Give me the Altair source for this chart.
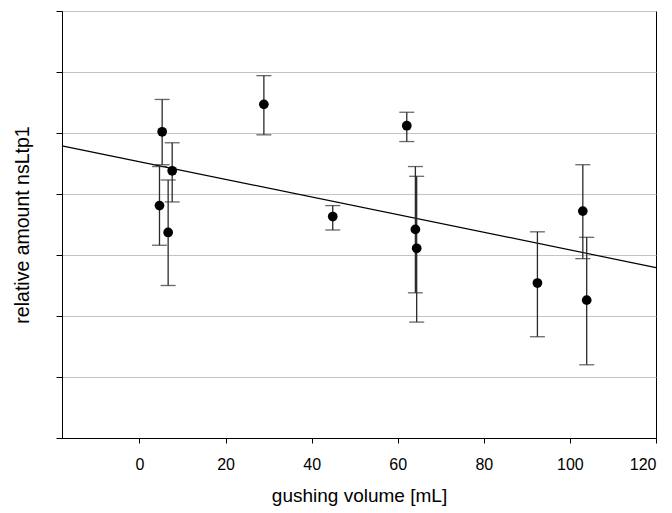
import altair as alt
import pandas as pd

# data
gush = [4.65, 5.27, 6.66, 7.6, 28.9, 44.9, 62.1, 64.1, 64.4, 92.45, 103.0, 103.9]
amount = [3.81, 5.02, 3.37, 4.38, 5.47, 3.63, 5.12, 3.42, 3.11, 2.54, 3.72, 2.26]
err_low = [3.16, 4.48, 2.50, 3.87, 4.97, 3.41, 4.86, 2.38, 1.90, 1.66, 2.94, 1.20]
err_high = [4.45, 5.55, 4.23, 4.84, 5.94, 3.81, 5.34, 4.45, 4.29, 3.38, 4.48, 3.29]
x_ticks = [0, 20, 40, 60, 80, 100, 120]
y_ticks = [0, 1, 2, 3, 4, 5, 6, 7]

df = pd.DataFrame({"x": gush, "y": amount, "lo": err_low, "hi": err_high})

FONT = "Liberation Sans"

xscale = alt.Scale(domain=[-18, 120], nice=False, zero=False)
yscale = alt.Scale(domain=[0, 7], nice=False, zero=False)

xaxis = alt.Axis(values=x_ticks, title="gushing volume [mL]", grid=False,
                 domainColor="black", tickColor="black", tickSize=5,
                 labelFontSize=16, labelFont=FONT, labelColor="black", labelPadding=13,
                 titleFontSize=19, titleFont=FONT, titleFontWeight="normal",
                 titleColor="black", titlePadding=14, zindex=1)
yaxis = alt.Axis(values=y_ticks, title="relative amount nsLtp1", labels=False,
                 grid=True, gridColor="#c4c4c4", domainColor="black",
                 tickColor="black", tickSize=6,
                 titleFontSize=19.5, titleFont=FONT, titleFontWeight="normal",
                 titleColor="black", titlePadding=23)

base = alt.Chart(df)

line = base.transform_regression("x", "y", extent=[-18, 120]).mark_line(
    color="black", strokeWidth=1.2
).encode(
    x=alt.X("x:Q", scale=xscale, axis=xaxis),
    y=alt.Y("y:Q", scale=yscale, axis=yaxis),
)

bars = base.mark_rule(color="#2a2a2a", strokeWidth=1.3).encode(
    x=alt.X("x:Q", scale=xscale),
    y=alt.Y("lo:Q", scale=yscale),
    y2="hi:Q",
)

cap_lo = base.mark_tick(orient="horizontal", size=15, thickness=1.3, color="#2a2a2a").encode(
    x=alt.X("x:Q", scale=xscale),
    y=alt.Y("lo:Q", scale=yscale),
)
cap_hi = base.mark_tick(orient="horizontal", size=15, thickness=1.3, color="#2a2a2a").encode(
    x=alt.X("x:Q", scale=xscale),
    y=alt.Y("hi:Q", scale=yscale),
)

pts = base.mark_point(filled=True, color="black", size=95, opacity=1).encode(
    x=alt.X("x:Q", scale=xscale),
    y=alt.Y("y:Q", scale=yscale),
)

chart = alt.layer(line, bars, cap_lo, cap_hi, pts).properties(
    width=594, height=427,
    padding={"left": 62, "top": 11, "right": 16, "bottom": 75},
    autosize=alt.AutoSizeParams(type="none"),
    background="white",
).configure_view(stroke="black", strokeWidth=1)

chart.save("out.html", embed_options={"renderer": "svg", "actions": False})
